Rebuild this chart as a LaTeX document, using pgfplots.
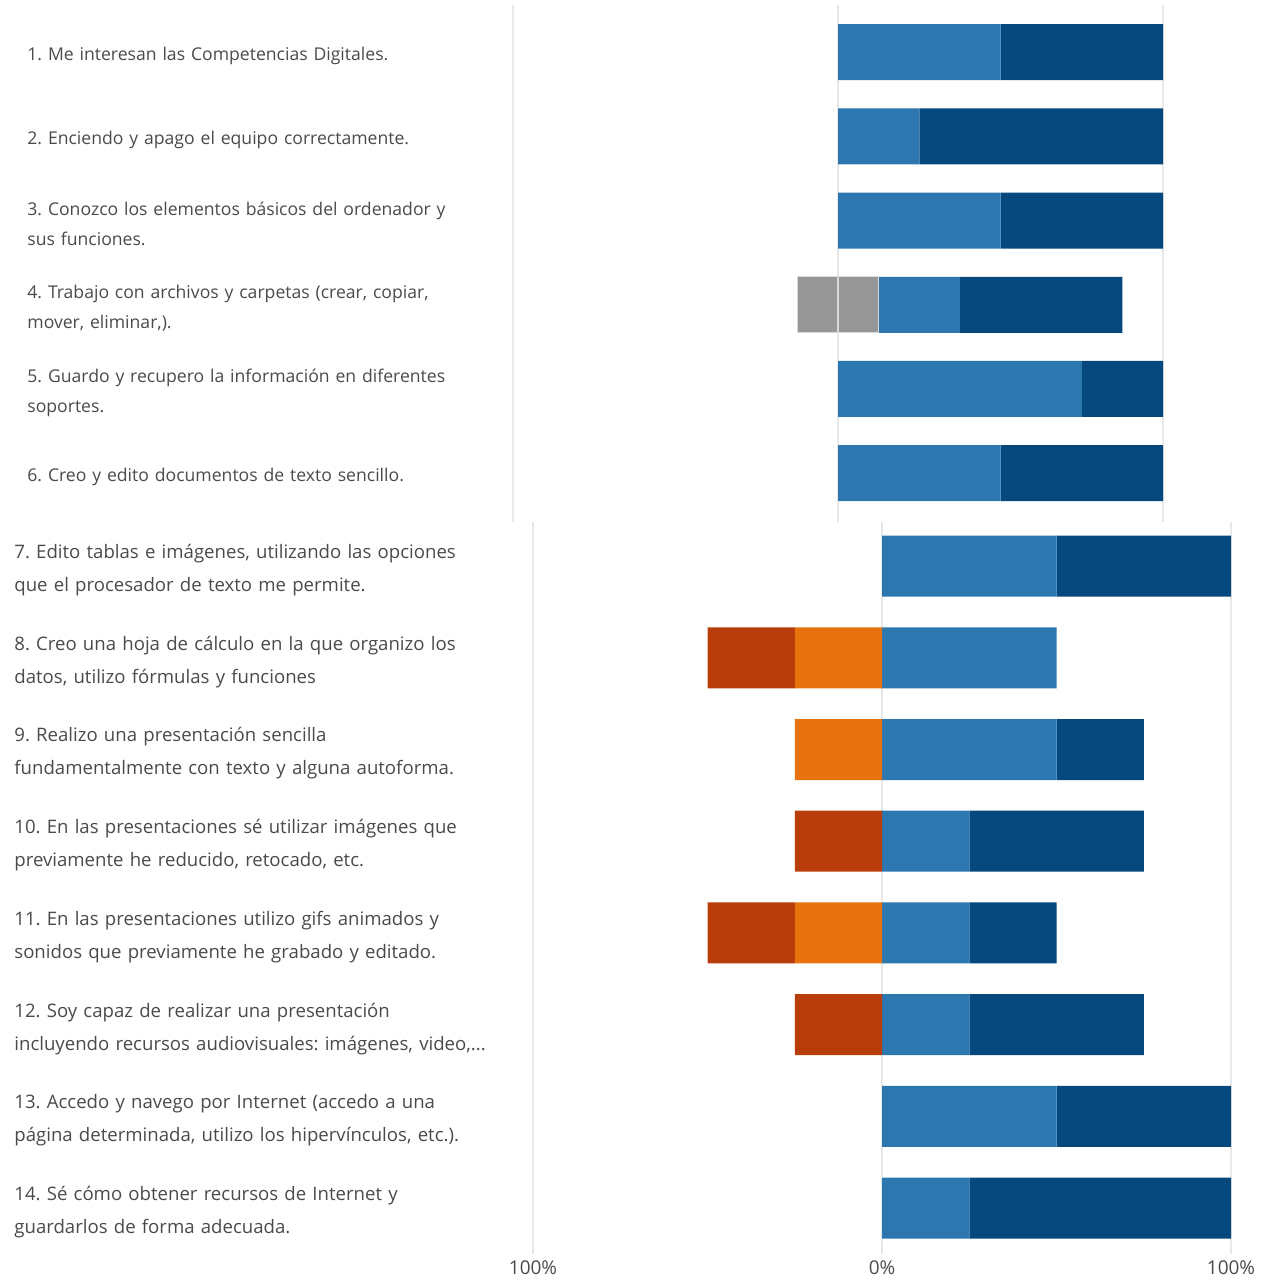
\documentclass[border=0pt]{standalone}
\usepackage{fontspec}
\setmainfont{Open Sans}
\usepackage{pgfplots}
\pgfplotsset{compat=1.18}
\usepackage{pgfplotstable}

\definecolor{lkblue}{HTML}{2C77B0}
\definecolor{lkdark}{HTML}{04487E}
\definecolor{lkorange}{HTML}{E8730E}
\definecolor{lkred}{HTML}{B93D0B}
\definecolor{lkgray}{HTML}{979797}
\definecolor{lktext}{HTML}{4A4A4A}

% negative values stack to the left of 0, positive ones to the right
\pgfplotstableread{
item grayL grayR orange red blue dark
1  0     0    0 0 50 50
2  0     0    0 0 25 75
3  0     0    0 0 50 50
4  -12.5 12.5 0 0 25 50
5  0     0    0 0 75 25
6  0     0    0 0 50 50
}\topdata

\pgfplotstableread{
item orange red blue dark
7  0   0   50 50
8  -25 -25 50 0
9  -25 0   50 25
10 0   -25 25 50
11 -25 -25 25 25
12 0   -25 25 50
13 0   0   50 50
14 0   0   25 75
}\bottomdata

\pgfplotsset{
  likert/.style={
    xbar stacked, y dir=reverse, scale only axis,
    xmin=-100, xmax=100, xtick={-100,0,100},
    axis line style={draw=none}, tick style={draw=none},
    xmajorgrids, grid style={gray!18, line width=0.6pt},
    anchor=north west,
    every axis plot/.append style={draw=none},
  },
}

\begin{document}
\begin{tikzpicture}
\path[use as bounding box] (0,0) rectangle (635pt,-642pt);

\begin{axis}[likert,
    at={(256.5pt,-2.5pt)}, width=325pt, height=258.5pt,
    ymin=0.44, ymax=6.58, bar width=28pt,
    xticklabels={},
    ytick={1,2,3,4,5,6},
    yticklabels={
      {1. Me interesan las Competencias Digitales.},
      {2. Enciendo y apago el equipo correctamente.},
      {3. Conozco los elementos básicos del ordenador y\\sus funciones.},
      {4. Trabajo con archivos y carpetas (crear, copiar,\\mover, eliminar,).},
      {5. Guardo y recupero la información en diferentes\\soportes.},
      {6. Creo y edito documentos de texto sencillo.}},
    yticklabel style={anchor=west, xshift=-243pt, yshift=-1.8pt, inner sep=0pt,
      text width=240pt, align=left, text=lktext,
      font=\fontsize{8.8}{15}\selectfont\frenchspacing},
  ]
  \addplot[fill=lkgray, draw=gray!30, line width=0.6pt] table[x=grayL, y=item] {\topdata};
  \addplot[fill=lkgray, draw=gray!30, line width=0.6pt] table[x=grayR, y=item] {\topdata};
  \addplot[fill=lkorange] table[x=orange, y=item] {\topdata};
  \addplot[fill=lkred] table[x=red, y=item] {\topdata};
  \addplot[fill=lkblue] table[x=blue, y=item] {\topdata};
  \addplot[fill=lkdark] table[x=dark, y=item] {\topdata};
\end{axis}

\begin{axis}[likert,
    at={(266.5pt,-261pt)}, width=349pt, height=366pt,
    ymin=6.52, ymax=14.5, bar width=30.5pt,
    xticklabels={100\%, 0\%, 100\%},
    xticklabel style={text=lktext, font=\fontsize{9.5}{11}\selectfont},
    ytick={7,8,9,10,11,12,13,14},
    yticklabels={
      {7. Edito tablas e imágenes, utilizando las opciones\\que el procesador de texto me permite.},
      {8. Creo una hoja de cálculo en la que organizo los\\datos, utilizo fórmulas y funciones},
      {9. Realizo una presentación sencilla\\fundamentalmente con texto y alguna autoforma.},
      {10. En las presentaciones sé utilizar imágenes que\\previamente he reducido, retocado, etc.},
      {11. En las presentaciones utilizo gifs animados y\\sonidos que previamente he grabado y editado.},
      {12. Soy capaz de realizar una presentación\\incluyendo recursos audiovisuales: imágenes, video,.{}.{}.},
      {13. Accedo y navego por Internet (accedo a una\\página determinada, utilizo los hipervínculos, etc.).},
      {14. Sé cómo obtener recursos de Internet y\\guardarlos de forma adecuada.}},
    yticklabel style={anchor=west, xshift=-259.5pt, yshift=-2pt, inner sep=0pt,
      text width=255pt, align=left, text=lktext,
      font=\fontsize{9.3}{16.5}\selectfont\frenchspacing},
  ]
  \addplot[fill=lkorange] table[x=orange, y=item] {\bottomdata};
  \addplot[fill=lkred] table[x=red, y=item] {\bottomdata};
  \addplot[fill=lkblue] table[x=blue, y=item] {\bottomdata};
  \addplot[fill=lkdark] table[x=dark, y=item] {\bottomdata};
\end{axis}
\end{tikzpicture}
\end{document}
